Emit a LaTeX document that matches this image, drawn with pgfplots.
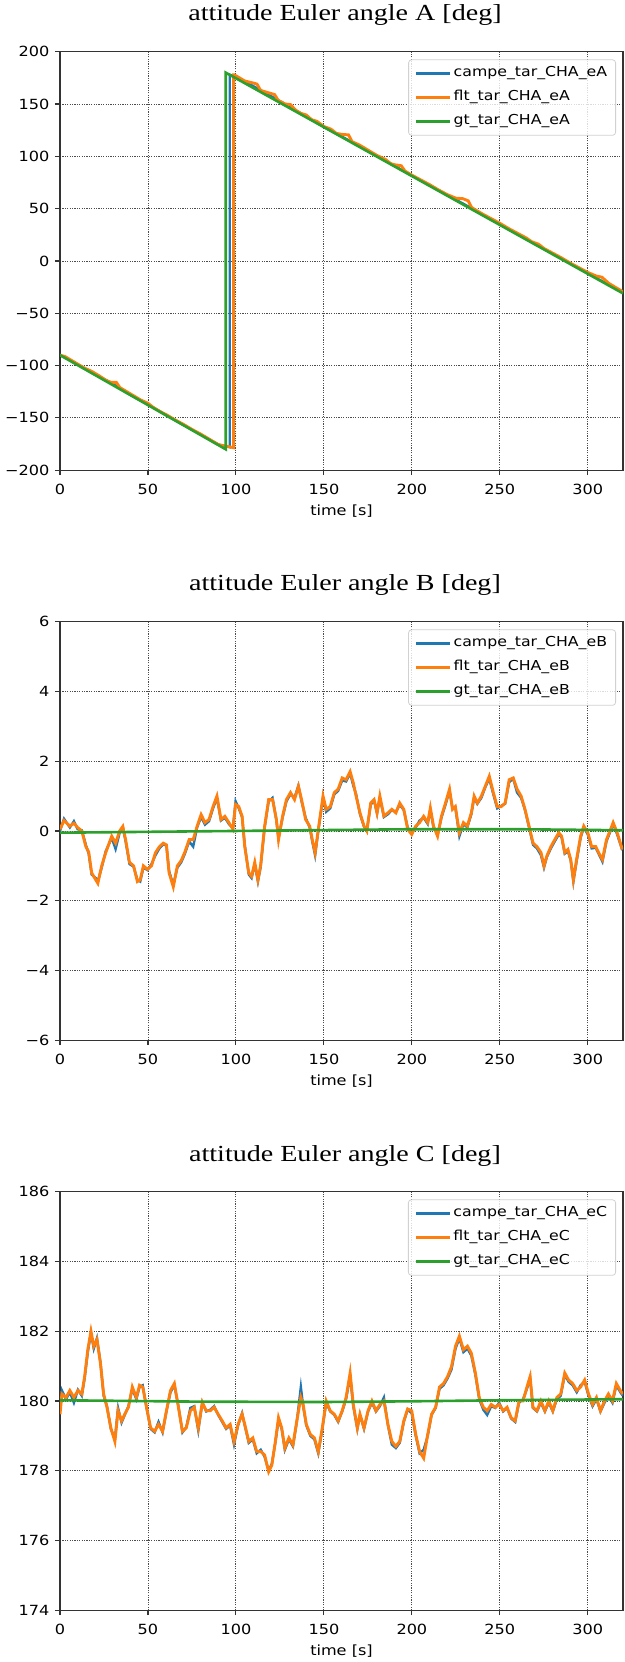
\documentclass[border=0pt]{standalone}
\usepackage{fontspec}
\setmainfont{Liberation Serif}[FakeStretch=1.22]
\newfontfamily\dejavu{DejaVu Sans}[FakeStretch=1.15]
\usepackage{pgfplots}
\usepackage{pgfplotstable}
\pgfplotsset{compat=1.18}

\definecolor{mplblue}{HTML}{1F77B4}
\definecolor{mplorange}{HTML}{FF7F0E}
\definecolor{mplgreen}{HTML}{2CA02C}

\newcommand\tickfont{\dejavu\fontsize{14pt}{16pt}\selectfont}
\newcommand\legfont{\dejavu\fontsize{13.7pt}{16pt}\selectfont}
\newcommand\titlefont{\fontsize{23pt}{27pt}\selectfont}

\pgfplotsset{
  eulerax/.style={
    anchor=north west,
    width=563pt, height=418.5pt, scale only axis,
    xmin=0, xmax=320,
    xtick={0,50,...,300},
    xticklabels={0,50,100,150,200,250,300},
    grid=major,
    grid style={draw=black!70, line width=0.9pt, dash pattern=on 1.2pt off 1.2pt},
    axis line style={draw=black!80, line width=1.3pt},
    tick style={draw=black!80, line width=1.1pt},
    tick align=outside, major tick length=5pt,
    xtick pos=left, ytick pos=left,
    ticklabel style={font=\tickfont},
    yticklabel style={xshift=-2pt},
    xticklabel style={yshift=-5pt},
    xlabel={time [s]},
    label style={font=\tickfont},
    xlabel style={yshift=-4pt},
    legend cell align=left,
    legend image code/.code={\draw[##1, line width=2.6pt] (0pt,0pt) -- (34pt,0pt);},
    legend style={at={(1,1)}, anchor=north east, xshift=-7pt, yshift=-7.7pt,
      draw=black!18, line width=0.8pt, rounded corners=3pt,
      fill=white, fill opacity=0.8, text opacity=1,
      font=\legfont, inner xsep=6.5pt, inner ysep=5pt, row sep=6.5pt,
      nodes={inner sep=2pt, text height=10pt, text depth=3.5pt}},
  },
  campe/.style={mplblue, line width=2.4pt},
  flt/.style={mplorange, line width=2.9pt},
  gt/.style={mplgreen, line width=2.6pt},
}

% ---- angle A ----
\pgfplotstableread{
t v
0 -90
10 -99
20 -108
30 -117.5
40 -128
50 -137
60 -147
70 -156.5
80 -166
90 -175.5
96.5 -178
96.5 178
100 176
110 167
120 157.5
130 148
140 138
150 128
160 119
170 110
180 100.5
190 91
200 81.5
210 72.5
220 63
230 54
240 44.5
250 35
260 25.5
270 16
280 7
290 -2.5
300 -12
310 -21
320 -30.5
}\campeA

\pgfplotstableread{
t v
0 -90
3 -91.5
6 -94.5
10 -98.5
14 -102.5
18 -105.5
22 -109.5
26 -114
29 -116
32 -116
34 -121
38 -125
42 -129
46 -133
50 -136
53 -140
57 -144
61 -147.5
65 -151.5
70 -156
75 -161
80 -165.5
85 -170.5
90 -175.5
94 -177
96 -177.5
98.7 -178.5
98.7 178
99 178
105 172
110 170
112 169
114 163
120 160
122 159
124 153.5
128 150
131 149.5
134 144
137 141
140 139.5
143 135
146 133.5
148 131
150 128.5
154 126
157 122
160 121
164 120.5
166 114
170 111
175 106
180 101
185 97
188 93
190 92
194 91
196 86
200 82
205 77.5
210 73
215 68
220 63.5
225 60
229 59.5
232 57.5
234 51
240 45
245 40.5
250 36
255 31
260 26.5
265 22
268 18.5
272 16
275 12
280 7.5
285 3
290 -2
295 -6.5
300 -11
305 -14.5
308 -15.5
312 -21.5
315 -24.5
320 -29.5
}\fltA

\pgfplotstableread{
t v
0 -90
94.2 -180
94.2 180
320 -31
}\gtA

% ---- angle B ----
\pgfplotstableread{
t flt cam
0 0.05 0.0
2.3 0.30 0.35
5.6 0.14 0.10
7.9 0.22 0.28
10 0.10 0.05
12.4 0.0 0.02
14.7 -0.45 -0.40
16.3 -0.60 -0.65
18 -1.2 -1.25
20.3 -1.4 -1.35
21.5 -1.5 -1.45
23.7 -1.0 -1.05
26 -0.62 -0.58
29.4 -0.15 -0.20
31.6 -0.35 -0.52
33.9 0.0 -0.05
35.7 0.13 0.10
37.3 -0.25 -0.30
39.5 -0.9 -0.95
41.8 -1.0 -1.02
44 -1.45 -1.40
45.6 -1.4 -1.45
47.4 -1.0 -1.05
49.7 -1.1 -1.12
52 -1.0 -0.95
54.2 -0.63 -0.70
56.5 -0.45 -0.50
58.7 -0.35 -0.38
60.5 -0.4 -0.42
62 -1.2 -1.15
64.4 -1.6 -1.55
66.7 -1.0 -1.05
68.9 -0.85 -0.90
71 -0.6 -0.65
73.4 -0.25 -0.30
75.7 -0.25 -0.45
77.9 0.13 0.10
80.2 0.47 0.40
82.4 0.24 0.18
84.7 0.33 0.28
87 0.7 0.65
89.2 1.0 0.95
91.5 0.33 0.30
93.7 0.42 0.38
96 0.24 0.20
98.3 0.05 0.08
99.8 0.76 0.85
101.6 0.7 0.65
103.5 0.42 0.40
105 -0.45 -0.40
107.3 -1.2 -1.25
108.9 -1.3 -1.35
110.7 -0.9 -0.95
112.5 -1.4 -1.45
114 -1.0 -1.05
116.3 0.13 0.10
118.6 0.9 0.85
120.8 0.9 0.95
123 0.33 0.30
124.2 -0.25 -0.20
126.5 0.42 0.38
128.7 0.9 0.85
131 1.1 1.05
133.3 0.9 0.95
135.5 1.28 1.30
137.3 0.9 0.85
139.6 0.33 0.38
141.9 0.14 0.10
143.4 -0.25 -0.30
145 -0.62 -0.70
146.8 0.04 0.00
149.5 1.0 0.95
151.3 0.62 0.55
153.6 0.7 0.65
155.9 1.1 1.05
158.1 1.2 1.15
160.4 1.52 1.45
162.6 1.47 1.42
164.9 1.7 1.65
166.7 1.38 1.30
168.3 1.0 1.05
170.5 0.52 0.48
172.8 0.14 0.12
174.4 0.0 0.02
176.6 0.8 0.75
178.5 0.9 0.88
180.2 0.52 0.50
181.8 1.0 0.95
184.1 0.43 0.40
186.4 0.52 0.48
188.6 0.62 0.60
190.9 0.52 0.55
193.1 0.8 0.75
195.4 0.62 0.60
197.6 0.05 0.10
199.9 -0.1 -0.05
202.2 0.14 0.10
204.4 0.24 0.30
206.7 0.42 0.38
209 0.24 0.20
210.5 0.66 0.60
212.3 0.14 0.10
214.6 -0.15 -0.10
216.8 0.42 0.38
219.1 0.8 0.75
221.4 1.2 1.15
223.1 0.62 0.65
224.7 0.7 0.68
227 -0.05 -0.15
229.3 0.24 0.20
231.5 0.14 0.10
233.8 0.52 0.48
235.4 1.0 0.95
237.2 0.8 0.78
239.5 1.0 0.95
241.7 1.28 1.25
244 1.57 1.50
246.3 1.1 1.05
248.5 0.7 0.65
250.8 0.7 0.72
253 0.8 0.78
255.3 1.47 1.40
257.6 1.52 1.50
259.8 1.2 1.10
262.1 1.0 0.95
264.3 0.62 0.60
266.6 0.14 0.10
268.9 -0.35 -0.40
271.1 -0.45 -0.50
273.4 -0.62 -0.70
275.1 -1.0 -1.05
276.7 -0.72 -0.75
279 -0.45 -0.50
281.2 -0.25 -0.30
283.5 -0.05 -0.10
285.1 -0.15 -0.18
286.9 -0.62 -0.65
288.7 -0.53 -0.58
290.3 -0.82 -0.85
291.8 -1.4 -1.45
293.6 -0.82 -0.88
295.9 -0.15 -0.20
297.7 0.14 0.10
300 -0.05 -0.10
302.2 -0.45 -0.50
304.5 -0.45 -0.48
306.1 -0.62 -0.65
308.3 -0.82 -0.88
310.6 -0.25 -0.30
312.9 0.04 0.00
314.4 0.24 0.20
316.7 -0.05 -0.10
319.6 -0.53 -0.55
}\dataB

% ---- angle C ----
\pgfplotstableread{
t flt cam
0 179.62 179.70
1.1 180.20 180.30
3.4 180.10 180.05
5.6 180.30 180.25
7.9 180.10 179.95
10.2 180.30 180.32
12.4 180.20 180.15
14 180.70 180.65
15.8 181.47 181.40
17.6 182.00 181.95
19.2 181.57 181.50
21 181.76 181.80
23 181.08 181.10
24.8 180.20 180.15
26.7 179.82 179.85
28.9 179.23 179.20
31.2 178.84 178.90
33 179.72 179.80
35 179.43 179.38
36.8 179.62 179.60
38.9 179.82 179.85
41.1 180.40 180.35
43.4 180.10 180.05
45.2 180.45 180.40
47 180.40 180.45
49.2 179.82 179.80
51.5 179.23 179.20
53.8 179.13 179.10
56 179.33 179.40
58.3 179.13 179.10
60.5 179.72 179.70
62.8 180.30 180.25
65 180.50 180.45
67.3 179.82 179.85
69.6 179.13 179.10
71.8 179.23 179.25
74.1 179.72 179.80
76.3 179.82 179.85
78.6 179.23 179.15
80.9 179.96 179.95
83.1 179.72 179.70
85.4 179.72 179.75
87.6 179.82 179.85
89.9 179.62 179.60
92.2 179.43 179.40
94.4 179.23 179.20
96.7 179.33 179.30
98.9 178.84 178.75
101.2 179.33 179.30
103.5 179.62 179.65
105 179.33 179.30
107.3 178.84 178.80
109.6 178.94 178.90
111.8 178.55 178.50
114.1 178.55 178.60
116.3 178.45 178.40
118.6 177.97 178.00
120.4 178.16 178.20
122.4 178.84 178.80
124.2 179.52 179.45
126 179.23 179.20
127.8 178.65 178.60
130.1 178.94 178.90
132.4 178.74 178.70
134.6 179.43 179.40
136.9 180.10 180.40
138.2 179.90 179.85
140 179.33 179.30
142.3 179.04 179.00
144.6 178.94 178.90
146.8 178.55 178.50
149.1 179.23 179.20
151.3 180.00 179.95
153.6 179.72 179.70
155.9 179.62 179.60
158.1 179.43 179.40
160.4 179.72 179.70
162.6 180.10 180.05
164.9 180.80 180.70
166.7 179.90 179.85
169 179.23 179.20
170.5 179.62 179.60
172.8 179.23 179.20
175.1 179.72 179.70
177.3 180.00 179.95
179.6 179.72 179.70
181.8 179.90 179.85
184.1 180.00 180.10
186.4 179.33 179.30
188.6 178.84 178.75
190.9 178.70 178.65
193.1 178.84 178.80
195.4 179.43 179.40
197.6 179.77 179.75
199.9 179.72 179.65
202.2 179.04 179.00
204.4 178.55 178.50
206.7 178.36 178.60
209 179.04 179.00
211.2 179.62 179.60
213.5 179.82 179.80
215.7 180.40 180.35
218 180.50 180.45
220.3 180.70 180.65
222.5 180.98 180.90
224.8 181.57 181.50
227 181.86 181.80
229.3 181.47 181.40
231.6 181.57 181.50
233.8 181.37 181.30
236.1 180.80 180.75
238.3 180.10 180.05
240.6 179.82 179.75
242.8 179.72 179.60
245.1 179.90 179.85
247.4 179.82 179.80
249.6 179.90 179.95
251.9 179.72 179.70
254.1 179.82 179.80
256.4 179.52 179.50
258.7 179.43 179.40
260.9 180.00 179.95
263.2 180.00 180.05
265.4 180.40 180.35
267.2 180.70 180.65
268.8 179.82 179.80
271.1 179.72 179.70
273.3 180.00 179.95
275.6 179.72 179.70
277.8 180.00 179.95
280.1 179.72 179.70
282.4 180.10 180.05
284.6 180.20 180.15
286.9 180.80 180.75
289.1 180.60 180.55
291.4 180.50 180.45
293.7 180.30 180.25
295.9 180.40 180.45
298.2 180.60 180.55
300.4 180.20 180.15
302.7 179.90 179.85
304.9 180.10 180.05
307.2 179.72 179.70
309.5 180.00 179.95
311.7 180.20 180.15
314 180.00 179.95
316.2 180.50 180.45
318.5 180.30 180.25
319.9 180.20 180.15
}\dataC

\pgfplotstableread{
t v
0 -0.05
100 0.0
200 0.05
260 0.05
320 0.02
}\gtB

\pgfplotstableread{
t v
0 180.02
80 179.98
150 179.97
200 179.99
250 180.02
320 180.05
}\gtC

\begin{document}
\begin{tikzpicture}
\useasboundingbox (0,0) rectangle (624pt,-1662pt);

% ===== A =====
\node[font=\titlefont] at (345pt,-15pt) {attitude Euler angle A [deg]};
\begin{axis}[eulerax, at={(60pt,-51.7pt)},
  ymin=-200, ymax=200, ytick={-200,-150,...,200},
  yticklabels={−200,−150,−100,−50,0,50,100,150,200}]
  \addplot[campe] table[x=t,y=v] {\campeA};
  \addlegendentry{campe\_tar\_CHA\_eA}
  \addplot[flt] table[x=t,y=v] {\fltA};
  \addlegendentry{flt\_tar\_CHA\_eA}
  \addplot[gt] table[x=t,y=v] {\gtA};
  \addlegendentry{gt\_tar\_CHA\_eA}
\end{axis}

% ===== B =====
\node[font=\titlefont] at (345pt,-585pt) {attitude Euler angle B [deg]};
\begin{axis}[eulerax, at={(60pt,-621.7pt)},
  ymin=-6, ymax=6, ytick={-6,-4,...,6},
  yticklabels={−6,−4,−2,0,2,4,6}]
  \addplot[campe] table[x=t,y=cam] {\dataB};
  \addlegendentry{campe\_tar\_CHA\_eB}
  \addplot[flt] table[x=t,y=flt] {\dataB};
  \addlegendentry{flt\_tar\_CHA\_eB}
  \addplot[gt] table[x=t,y=v] {\gtB};
  \addlegendentry{gt\_tar\_CHA\_eB}
\end{axis}

% ===== C =====
\node[font=\titlefont] at (345pt,-1155.5pt) {attitude Euler angle C [deg]};
\begin{axis}[eulerax, at={(60pt,-1191.7pt)},
  ymin=174, ymax=186, ytick={174,176,...,186},
  yticklabels={174,176,178,180,182,184,186}]
  \addplot[campe] table[x=t,y=cam] {\dataC};
  \addlegendentry{campe\_tar\_CHA\_eC}
  \addplot[flt] table[x=t,y=flt] {\dataC};
  \addlegendentry{flt\_tar\_CHA\_eC}
  \addplot[gt] table[x=t,y=v] {\gtC};
  \addlegendentry{gt\_tar\_CHA\_eC}
\end{axis}
\end{tikzpicture}
\end{document}
